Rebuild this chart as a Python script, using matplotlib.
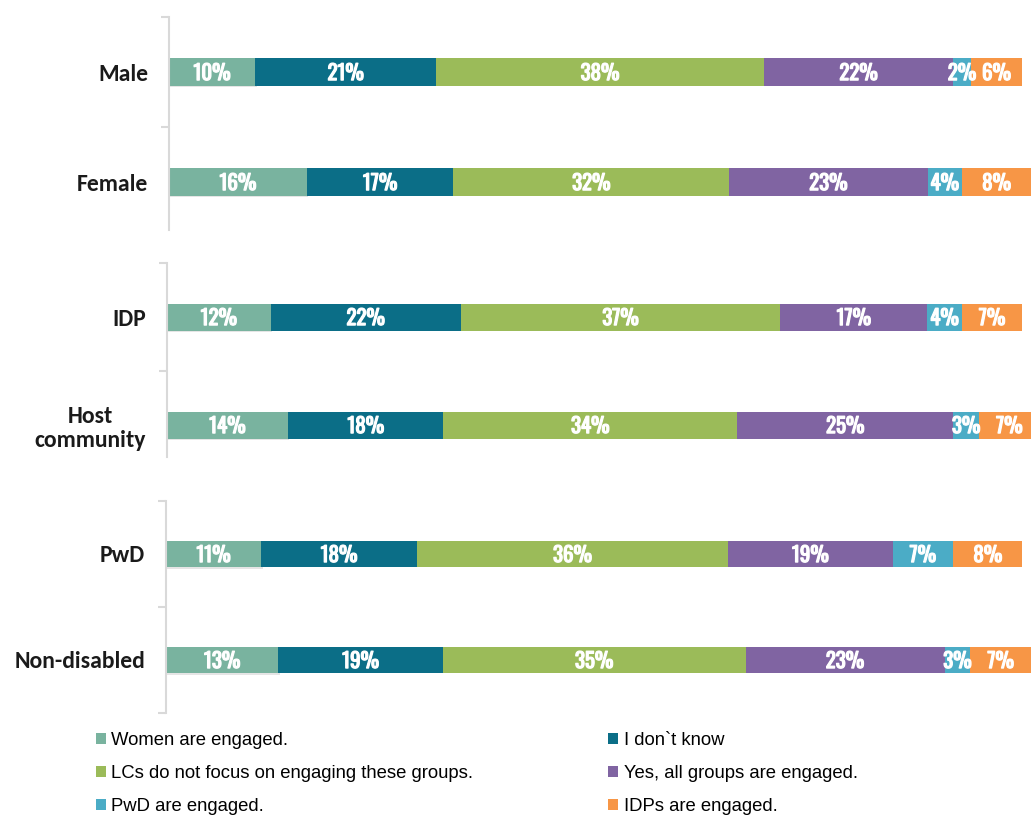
import matplotlib.pyplot as plt
import matplotlib.patheffects as pe
from matplotlib.patches import Patch

# answer categories, in stacking order
answers = ['Women are engaged.', 'I don`t know',
           'LCs do not focus on engaging these groups.', 'Yes, all groups are engaged.',
           'PwD are engaged.', 'IDPs are engaged.']
colors = ['#79B39F', '#0B6E87', '#9BBB59', '#8064A2', '#4BACC6', '#F79646']

# one panel per comparison
groups_gender = ['Male', 'Female']
vals_gender = [[10, 21, 38, 22, 2, 6],
               [16, 17, 32, 23, 4, 8]]

groups_status = ['IDP', 'Host\ncommunity']
vals_status = [[12, 22, 37, 17, 4, 7],
               [14, 18, 34, 25, 3, 7]]

groups_disab = ['PwD', 'Non-disabled']
vals_disab = [[11, 18, 36, 19, 7, 8],
              [13, 19, 35, 23, 3, 7]]

label_fonts = ['Oswald', 'Asap Condensed', 'DejaVu Sans']
cat_fonts = ['Carlito', 'Lato', 'DejaVu Sans']
legend_fonts = ['Liberation Sans', 'DejaVu Sans']

W, H = 1033, 819
fig = plt.figure(figsize=(W / 100, H / 100), dpi=100)

# left px, top px, px per category, visible spine end (data units), bottom tick?
panels = [
    (groups_gender, vals_gender, 169, 17, 110, 1.44, False),
    (groups_status, vals_status, 167, 263, 108, 1.30, False),
    (groups_disab, vals_disab, 166, 501, 106, 1.50, True),
]

shadow = [pe.SimplePatchShadow(offset=(1, -1), shadow_rgbFace='#999999', alpha=0.25), pe.Normal()]
# thicken the narrow label font
heavy = [pe.withStroke(linewidth=0.9, foreground='white')]

for groups, vals, left, top, cat_px, spine_end, bottom_tick in panels:
    h = 2 * cat_px
    ax = fig.add_axes([left / W, 1 - (top + h) / H, (1031 - left) / W, h / H])
    for i, row in enumerate(vals):
        start = 0
        for j, v in enumerate(row):
            ax.barh(i, v, left=start, height=0.25, color=colors[j],
                    path_effects=shadow if j == 0 else None, zorder=2)
            ax.text(start + v / 2, i + 0.01, f'{v}%', ha='center', va='center',
                    color='white', fontsize=15, fontweight='bold',
                    family=label_fonts, path_effects=heavy, zorder=3)
            start += v
    ax.set_xlim(0, 100)
    ax.set_ylim(1.5, -0.5)
    ax.set_xticks([])
    ax.set_yticks([0, 1])
    ax.set_yticklabels(groups, fontsize=17, fontweight='bold', color='#1a1a1a',
                       family=cat_fonts, multialignment='center', linespacing=1.15)
    ax.tick_params(axis='y', which='major', length=0, pad=15)
    ax.set_yticks([-0.5, 0.5, 1.5] if bottom_tick else [-0.5, 0.5], minor=True)
    ax.tick_params(axis='y', which='minor', length=6, width=1.5, color='#D9D9D9')
    for s in ['top', 'right', 'bottom']:
        ax.spines[s].set_visible(False)
    ax.spines['left'].set_color('#D9D9D9')
    ax.spines['left'].set_linewidth(1.5)
    ax.spines['left'].set_bounds(-0.5, spine_end)

# legend reads row by row, matplotlib fills by column
order = [0, 2, 4, 1, 3, 5]
handles = [Patch(facecolor=colors[k], label=answers[k]) for k in order]
fig.legend(handles=handles, ncol=2, loc='upper left', bbox_to_anchor=(79 / W, 1 - 715 / H),
           frameon=False, handlelength=0.55, handleheight=0.55,
           handletextpad=0.3, columnspacing=7.3, labelspacing=0.88,
           prop={'family': legend_fonts, 'size': 13.3})

fig.savefig('out.png', dpi=100)
